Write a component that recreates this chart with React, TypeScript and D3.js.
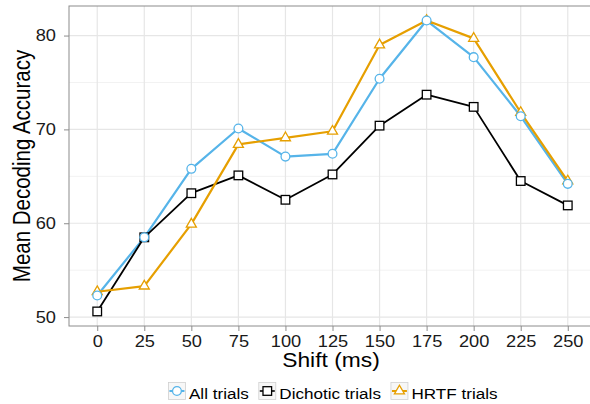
import React, { useRef, useEffect } from 'react';
import * as d3 from 'd3';

// shift values (ms), x categories
const shifts = [0, 25, 50, 75, 100, 125, 150, 175, 200, 225, 250];

// mean decoding accuracy per condition
const allTrials = [52.3, 58.5, 65.8, 70.1, 67.1, 67.4, 75.4, 81.6, 77.7, 71.4, 64.2];
const dichotic = [50.6, 58.5, 63.2, 65.1, 62.5, 65.2, 70.4, 73.7, 72.4, 64.5, 61.9];
const hrtf = [52.7, 53.3, 59.9, 68.4, 69.1, 69.8, 79.0, 81.6, 79.7, 71.8, 64.5];

const yTicks = [50, 60, 70, 80];
const yMinor = [55, 65, 75];

const seriesNames = ['All trials', 'Dichotic trials', 'HRTF trials'];
const seriesColors = ['#56B4E9', '#000000', '#E69F00'];
const seriesShapes = ['circle', 'square', 'triangle'];
const seriesData = [allTrials, dichotic, hrtf];

const W = 590;
const H = 404;
const margin = { left: 69, top: 6, right: -6, bottom: 78 };
const FONT = '"Liberation Sans", Arial, Helvetica, sans-serif';
const SX = 1.14; // the text in the original is a bit wide

const drawShape = (g, shape, x, y, color) => {
  if (shape === 'circle') {
    g.append('circle').attr('cx', x).attr('cy', y).attr('r', 4.4)
      .attr('fill', 'white').attr('stroke', color).attr('stroke-width', 1.3);
  } else if (shape === 'square') {
    g.append('rect').attr('x', x - 4.3).attr('y', y - 4.3).attr('width', 8.6).attr('height', 8.6)
      .attr('fill', 'white').attr('stroke', color).attr('stroke-width', 1.3);
  } else {
    const r = 5.8;
    const pts = [[x, y - r], [x + r * 0.866, y + r * 0.5], [x - r * 0.866, y + r * 0.5]];
    g.append('polygon').attr('points', pts.map(p => p.join(',')).join(' '))
      .attr('fill', 'white').attr('stroke', color).attr('stroke-width', 1.3);
  }
};

const App = () => {
  const svgRef = useRef(null);

  useEffect(() => {
    const svg = d3.select(svgRef.current);
    svg.selectAll('*').remove();

    const x0 = margin.left;
    const x1 = W - margin.right;
    const y0 = margin.top;
    const y1 = H - margin.bottom;

    const xScale = d3.scalePoint()
      .domain(shifts.map(String))
      .range([x0, x1])
      .padding(0.6);

    const yScale = d3.scaleLinear()
      .domain([49.05, 83.15])
      .range([y1, y0]);

    // panel
    svg.append('rect').attr('x', x0).attr('y', y0).attr('width', x1 - x0).attr('height', y1 - y0)
      .attr('fill', 'white');

    const grid = svg.append('g');
    yMinor.forEach(v => {
      grid.append('line').attr('x1', x0).attr('x2', x1).attr('y1', yScale(v)).attr('y2', yScale(v))
        .attr('stroke', '#f2f2f2').attr('stroke-width', 1);
    });
    yTicks.forEach(v => {
      grid.append('line').attr('x1', x0).attr('x2', x1).attr('y1', yScale(v)).attr('y2', yScale(v))
        .attr('stroke', '#e6e6e6').attr('stroke-width', 1.2);
    });
    shifts.forEach(s => {
      grid.append('line').attr('x1', xScale(String(s))).attr('x2', xScale(String(s)))
        .attr('y1', y0).attr('y2', y1)
        .attr('stroke', '#e6e6e6').attr('stroke-width', 1.2);
    });

    // border
    svg.append('rect').attr('x', x0).attr('y', y0).attr('width', x1 - x0).attr('height', y1 - y0)
      .attr('fill', 'none').attr('stroke', '#8c8c8c').attr('stroke-width', 1);

    // axes
    const yAxis = d3.axisLeft(yScale).tickValues(yTicks).tickSize(5).tickPadding(6.4);
    const ga = svg.append('g').attr('transform', `translate(${x0},0)`).call(yAxis);
    const xAxis = d3.axisBottom(xScale).tickSize(5).tickPadding(4.5);
    const gb = svg.append('g').attr('transform', `translate(0,${y1})`).call(xAxis);
    [ga, gb].forEach(g => {
      g.select('.domain').remove();
      g.selectAll('.tick line').attr('stroke', '#8c8c8c');
      g.selectAll('.tick text').attr('fill', '#1a1a1a').style('font-size', '16px').style('font-family', FONT)
        .attr('transform', `scale(${SX},1)`);
    });

    // lines
    const line = d3.line()
      .x((d, i) => xScale(String(shifts[i])))
      .y(d => yScale(d));
    seriesData.forEach((data, k) => {
      svg.append('path').datum(data).attr('d', line)
        .attr('fill', 'none').attr('stroke', seriesColors[k])
        .attr('stroke-width', k === 1 ? 1.8 : 2.2).attr('stroke-linejoin', 'round');
    });

    // points, HRTF first so the circles sit on top
    const pts = svg.append('g');
    [2, 1, 0].forEach(k => {
      seriesData[k].forEach((v, i) => {
        drawShape(pts, seriesShapes[k], xScale(String(shifts[i])), yScale(v), seriesColors[k]);
      });
    });

    // titles
    svg.append('text').attr('transform', `translate(331,367) scale(${SX},1)`)
      .attr('text-anchor', 'middle').style('font-family', FONT).style('font-size', '20px')
      .attr('fill', 'black').text('Shift (ms)');
    svg.append('text').attr('transform', `translate(30,${(y0 + y1) / 2}) rotate(-90) scale(1,${SX})`)
      .attr('text-anchor', 'middle').style('font-family', FONT).style('font-size', '20.5px')
      .attr('fill', 'black').text('Mean Decoding Accuracy');

    // legend
    const leg = svg.append('g');
    let cx = 0;
    seriesNames.forEach((name, k) => {
      const g = leg.append('g').attr('transform', `translate(${cx},0)`);
      g.append('rect').attr('x', 0).attr('y', -8.5).attr('width', 17).attr('height', 17)
        .attr('fill', '#f7f7f7').attr('stroke', '#d0d0d0').attr('stroke-width', 0.8);
      g.append('line').attr('x1', 1).attr('x2', 16).attr('y1', 0).attr('y2', 0)
        .attr('stroke', seriesColors[k]).attr('stroke-width', k === 1 ? 1.6 : 2);
      drawShape(g, seriesShapes[k], 8.5, 0, seriesColors[k]);
      const t = g.append('text').attr('transform', `translate(20.5,8) scale(${SX},1)`)
        .style('font-family', FONT).style('font-size', '15px').attr('fill', 'black').text(name);
      const tw = t.node().getComputedTextLength() * SX;
      cx += 20.5 + tw + 10;
    });
    const totalW = cx - 10;
    leg.attr('transform', `translate(${333 - totalW / 2},391)`);
  }, []);

  return (
    <svg ref={svgRef} width={W} height={H} style={{ display: 'block', position: 'absolute', left: 0, top: 0 }} />
  );
};

export default App;
